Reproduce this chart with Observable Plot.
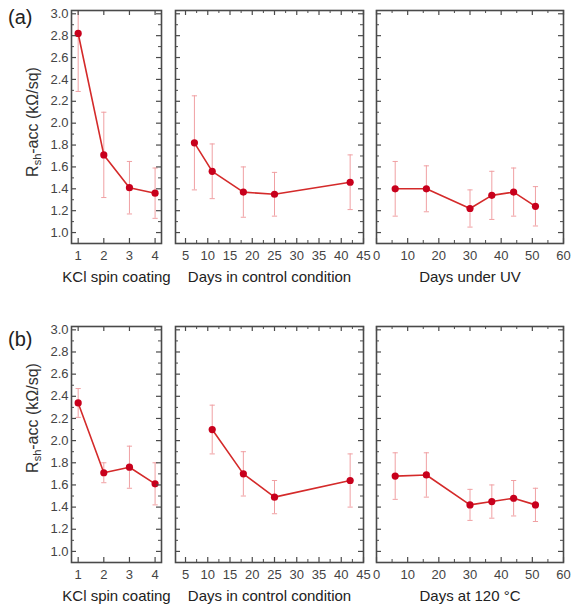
<!DOCTYPE html>
<html>
<head>
<meta charset="utf-8">
<script src="https://cdn.jsdelivr.net/npm/d3@7"></script>
<script src="https://cdn.jsdelivr.net/npm/@observablehq/plot@0.6"></script>
<style>
  html, body { margin: 0; padding: 0; background: #fff; }
  #wrap { position: relative; width: 571px; height: 606px; overflow: hidden; font-family: "Liberation Sans", Arial, sans-serif; }
  .abs { position: absolute; }
  .ylab { position: absolute; white-space: nowrap; font-size: 16px; color: #333; transform: translate(-50%, -50%) rotate(-90deg); }
  .ylab sub { font-size: 11px; vertical-align: -3px; }
  .plab { position: absolute; font-size: 20px; color: #222; }
</style>
</head>
<body>
<div id="wrap"></div>
<script>
// ---------- data ----------
const panelLabels = ["(a)", "(b)"];
const yTitle = "R<sub>sh</sub>-acc (kΩ/sq)";
const xTitles = ["KCl spin coating", "Days in control condition", "Days under UV", "Days at 120 °C"];

const yTickLabels = [1.0, 1.2, 1.4, 1.6, 1.8, 2.0, 2.2, 2.4, 2.6, 2.8, 3.0];
const kclTicks = [1, 2, 3, 4];
const ctrlTicks = [5, 10, 15, 20, 25, 30, 35, 40, 45];
const dayTicks = [0, 10, 20, 30, 40, 50, 60];

// (a)
const aKclX = [1, 2, 3, 4];
const aKclY = [2.82, 1.71, 1.41, 1.36];
const aKclErr = [0.53, 0.39, 0.24, 0.23];

const aCtrlX = [7, 11, 18, 25, 42];
const aCtrlY = [1.82, 1.56, 1.37, 1.35, 1.46];
const aCtrlErr = [0.43, 0.25, 0.23, 0.20, 0.25];

const aUvX = [6, 16, 30, 37, 44, 51];
const aUvY = [1.40, 1.40, 1.22, 1.34, 1.37, 1.24];
const aUvErr = [0.25, 0.21, 0.17, 0.22, 0.22, 0.18];

// (b)
const bKclX = [1, 2, 3, 4];
const bKclY = [2.34, 1.71, 1.76, 1.61];
const bKclErr = [0.13, 0.09, 0.19, 0.19];

const bCtrlX = [11, 18, 25, 42];
const bCtrlY = [2.10, 1.70, 1.49, 1.64];
const bCtrlErr = [0.22, 0.20, 0.15, 0.24];

const bHeatX = [6, 16, 30, 37, 44, 51];
const bHeatY = [1.68, 1.69, 1.42, 1.45, 1.48, 1.42];
const bHeatErr = [0.21, 0.20, 0.14, 0.15, 0.16, 0.15];

// ---------- style ----------
const lineColor = "#d42a2a";
const dotColor = "#c8001c";
const errColor = "#f0a0a3";
const axisColor = "#4a4a4a";
const yDomain = [0.9, 3.03];

const capSymbol = {
  draw(ctx, size) {
    const r = Math.sqrt(size / Math.PI);
    ctx.moveTo(-r, 0);
    ctx.lineTo(r, 0);
  }
};

const wrap = document.getElementById("wrap");

function panel(opts) {
  const {x, y, err, xDomain, xMajor, xMinor, title, left, top, width, height,
         marginLeft, marginRight, marginTop, marginBottom, showY} = opts;
  const data = x.map((d, i) => ({x: d, y: y[i], lo: y[i] - err[i], hi: y[i] + err[i]}));
  const innerW = width - marginLeft - marginRight;
  const innerH = height - marginTop - marginBottom;
  const yMinor = d3.range(1.1, 3.0, 0.2).map(v => +v.toFixed(2));
  const marks = [
    Plot.ruleX(data, {x: "x", y1: "lo", y2: "hi", stroke: errColor, strokeWidth: 1, clip: true}),
    Plot.dot(data, {x: "x", y: "lo", symbol: capSymbol, r: 2.6, stroke: errColor, fill: "none", strokeWidth: 1, clip: true}),
    Plot.dot(data, {x: "x", y: "hi", symbol: capSymbol, r: 2.6, stroke: errColor, fill: "none", strokeWidth: 1, clip: true}),
    Plot.line(data, {x: "x", y: "y", stroke: lineColor, strokeWidth: 1.6}),
    Plot.dot(data, {x: "x", y: "y", r: 3.6, fill: dotColor, stroke: "none"}),
    // inward ticks
    Plot.tickX(xMajor, {x: d => d, insetTop: innerH - 5, stroke: axisColor, strokeWidth: 1.2}),
    Plot.tickX(xMajor, {x: d => d, insetBottom: innerH - 5, stroke: axisColor, strokeWidth: 1.2}),
    Plot.tickX(xMinor, {x: d => d, insetTop: innerH - 3, stroke: axisColor, strokeWidth: 1}),
    Plot.tickX(xMinor, {x: d => d, insetBottom: innerH - 3, stroke: axisColor, strokeWidth: 1}),
    Plot.tickY(yTickLabels, {y: d => d, insetRight: innerW - 5, stroke: axisColor, strokeWidth: 1.2}),
    Plot.tickY(yTickLabels, {y: d => d, insetLeft: innerW - 5, stroke: axisColor, strokeWidth: 1.2}),
    Plot.tickY(yMinor, {y: d => d, insetRight: innerW - 3, stroke: axisColor, strokeWidth: 1}),
    Plot.tickY(yMinor, {y: d => d, insetLeft: innerW - 3, stroke: axisColor, strokeWidth: 1}),
    Plot.frame({stroke: axisColor, strokeWidth: 1.6}),
    Plot.axisX(xMajor, {tickSize: 0, tickPadding: 7, fontSize: 13, label: null, fill: "#444"}),
    Plot.text([title], {frameAnchor: "bottom", dy: 34, lineAnchor: "middle", fontSize: 15, fill: "#222"})
  ];
  if (showY) {
    marks.push(Plot.axisY(yTickLabels, {tickSize: 0, tickPadding: 3, fontSize: 13, label: null,
      tickFormat: d3.format(".1f"), fill: "#444"}));
  } else {
    marks.push(Plot.axisY([], {label: null}));
  }
  const chart = Plot.plot({
    width, height, marginLeft, marginRight, marginTop, marginBottom,
    x: {domain: xDomain, label: null},
    y: {domain: yDomain, label: null},
    style: {fontFamily: "'Liberation Sans', Arial, sans-serif", background: "transparent", overflow: "visible", color: "#333"},
    marks
  });
  chart.classList.add("abs");
  chart.style.left = left + "px";
  chart.style.top = top + "px";
  wrap.appendChild(chart);
}

const rows = [
  {top: 0, height: 288, inner: 233, sets: [[aKclX, aKclY, aKclErr, xTitles[0]], [aCtrlX, aCtrlY, aCtrlErr, xTitles[1]], [aUvX, aUvY, aUvErr, xTitles[2]]]},
  {top: 316, height: 290, inner: 236, sets: [[bKclX, bKclY, bKclErr, xTitles[0]], [bCtrlX, bCtrlY, bCtrlErr, xTitles[1]], [bHeatX, bHeatY, bHeatErr, xTitles[3]]]}
];

rows.forEach((row, ri) => {
  const mt = 10, mb = row.height - mt - row.inner;
  const [k, c, u] = row.sets;
  panel({x: k[0], y: k[1], err: k[2], title: k[3], xDomain: [0.74, 4.25], xMajor: kclTicks, xMinor: [],
    left: 0, top: row.top, width: 163, height: row.height, marginLeft: 71, marginRight: 2, marginTop: mt, marginBottom: mb, showY: true});
  panel({x: c[0], y: c[1], err: c[2], title: c[3], xDomain: [2.75, 45], xMajor: ctrlTicks, xMinor: d3.range(7.5, 45, 5),
    left: 165, top: row.top, width: 200, height: row.height, marginLeft: 10, marginRight: 2, marginTop: mt, marginBottom: mb, showY: false});
  panel({x: u[0], y: u[1], err: u[2], title: u[3], xDomain: [0, 60], xMajor: dayTicks, xMinor: d3.range(5, 60, 10),
    left: 366, top: row.top, width: 205, height: row.height, marginLeft: 10, marginRight: 8, marginTop: mt, marginBottom: mb, showY: false});

  const lab = document.createElement("div");
  lab.className = "plab";
  lab.textContent = panelLabels[ri];
  lab.style.left = "8px";
  lab.style.top = (row.top + (ri === 0 ? 6 : 12)) + "px";
  wrap.appendChild(lab);

  const yl = document.createElement("div");
  yl.className = "ylab";
  yl.innerHTML = yTitle;
  yl.style.left = "33px";
  yl.style.top = (ri === 0 ? 122 : 418) + "px";
  wrap.appendChild(yl);
});
</script>
</body>
</html>
